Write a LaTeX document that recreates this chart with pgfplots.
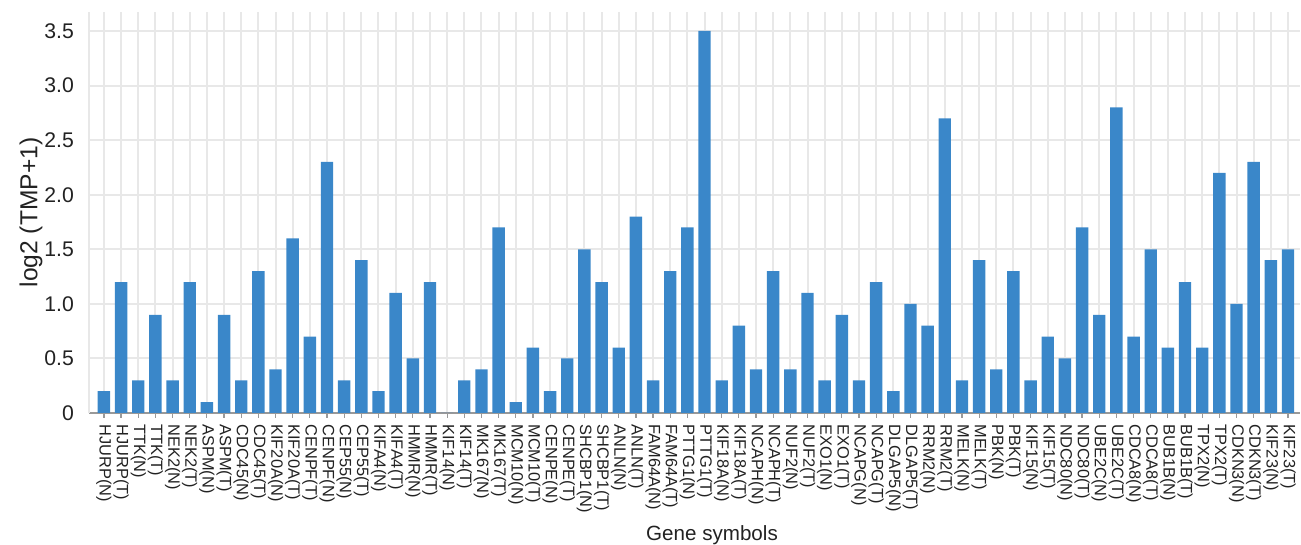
\documentclass[border=0pt]{standalone}
\usepackage{pgfplots}
\pgfplotsset{compat=1.18}
\usepackage{fontspec}
\setmainfont{Liberation Sans}
\usetikzlibrary{calc}
\definecolor{barblue}{HTML}{3A87C9}
\definecolor{gridgray}{HTML}{E8E8E8}
\definecolor{txt}{HTML}{222222}
\begin{document}
\begin{tikzpicture}
\begin{axis}[
  scale only axis,
  width=605.5pt, height=200.5pt,
  xmin=-0.87, xmax=69.7,
  ymin=0, ymax=3.674,
  axis x line*=bottom,
  axis y line*=left,
  y axis line style={draw=none},
  x axis line style={draw=gray!80, line width=0.8pt},
  ytick={0,0.5,1,1.5,2,2.5,3,3.5},
  yticklabels={0,0.5,1.0,1.5,2.0,2.5,3.0,3.5},
  ytick style={draw=none},
  yticklabel style={font=\fontsize{10.6}{11}\selectfont, text=txt, xshift=-1.5pt},
  xtick={0,...,69},
  xticklabels={HJURP(N),HJURP(T),TTK(N),TTK(T),NEK2(N),NEK2(T),ASPM(N),ASPM(T),CDC45(N),CDC45(T),KIF20A(N),KIF20A(T),CENPF(T),CENPF(N),CEP55(N),CEP55(T),KIFA4(N),KIFA4(T),HMMR(N),HMMR(T),KIF14(N),KIF14(T),MK167(N),MK167(T),MCM10(N),MCM10(T),CENPE(N),CENPE(T),SHCBP1(N),SHCBP1(T),ANLN(N),ANLN(T),FAM64A(N),FAM64A(T),PTTG1(N),PTTG1(T),KIF18A(N),KIF18A(T),NCAPH(N),NCAPH(T),NUF2(N),NUF2(T),EXO1(N),EXO1(T),NCAPG(N),NCAPG(T),DLGAP5(N),DLGAP5(T),RRM2(N),RRM2(T),MELK(N),MELK(T),PBK(N),PBK(T),KIF15(N),KIF15(T),NDC80(N),NDC80(T),UBE2C(N),UBE2C(T),CDCA8(N),CDCA8(T),BUB1B(N),BUB1B(T),TPX2(N),TPX2(T),CDKN3(N),CDKN3(T),KIF23(N),KIF23(T)},
  xticklabel style={rotate=-90, anchor=west, font=\fontsize{8.2}{9}\selectfont, text=txt, inner sep=1pt, xshift=2pt},
  tick align=outside,
  major tick length=2.5pt,
  xtick style={draw=gray!80, line width=0.6pt},
  extra x ticks={-0.87},
  extra x tick labels={},
  extra x tick style={major tick length=0pt, grid=major},
  grid=major,
  major grid style={draw=gridgray, line width=1pt},
  ylabel={log2 (TMP+1)},
  ylabel style={at={(axis description cs:0,0.5)}, anchor=center, yshift=29pt, font=\fontsize{12.3}{13}\selectfont, text=txt},
  xlabel={Gene symbols},
  xlabel style={at={(axis description cs:0.5,0)}, anchor=center, yshift=-61pt, xshift=8.75pt, font=\fontsize{10.3}{11}\selectfont, text=txt},
  clip=false,
]
\addplot[ybar, bar width=6.2pt, fill=barblue, draw=none] coordinates {
(0,0.2) (1,1.2) (2,0.3) (3,0.9) (4,0.3) (5,1.2) (6,0.1) (7,0.9) (8,0.3) (9,1.3)
(10,0.4) (11,1.6) (12,0.7) (13,2.3) (14,0.3) (15,1.4) (16,0.2) (17,1.1) (18,0.5) (19,1.2)
(20,0) (21,0.3) (22,0.4) (23,1.7) (24,0.1) (25,0.6) (26,0.2) (27,0.5) (28,1.5) (29,1.2)
(30,0.6) (31,1.8) (32,0.3) (33,1.3) (34,1.7) (35,3.5) (36,0.3) (37,0.8) (38,0.4) (39,1.3)
(40,0.4) (41,1.1) (42,0.3) (43,0.9) (44,0.3) (45,1.2) (46,0.2) (47,1.0) (48,0.8) (49,2.7)
(50,0.3) (51,1.4) (52,0.4) (53,1.3) (54,0.3) (55,0.7) (56,0.5) (57,1.7) (58,0.9) (59,2.8)
(60,0.7) (61,1.5) (62,0.6) (63,1.2) (64,0.6) (65,2.2) (66,1.0) (67,2.3) (68,1.4) (69,1.5)
};
\end{axis}
\pgfresetboundingbox
\path ($(current axis.south west)+(-44.5pt,-66pt)$) rectangle ($(current axis.north east)+(0.5pt,6pt)$);
\end{tikzpicture}
\end{document}
